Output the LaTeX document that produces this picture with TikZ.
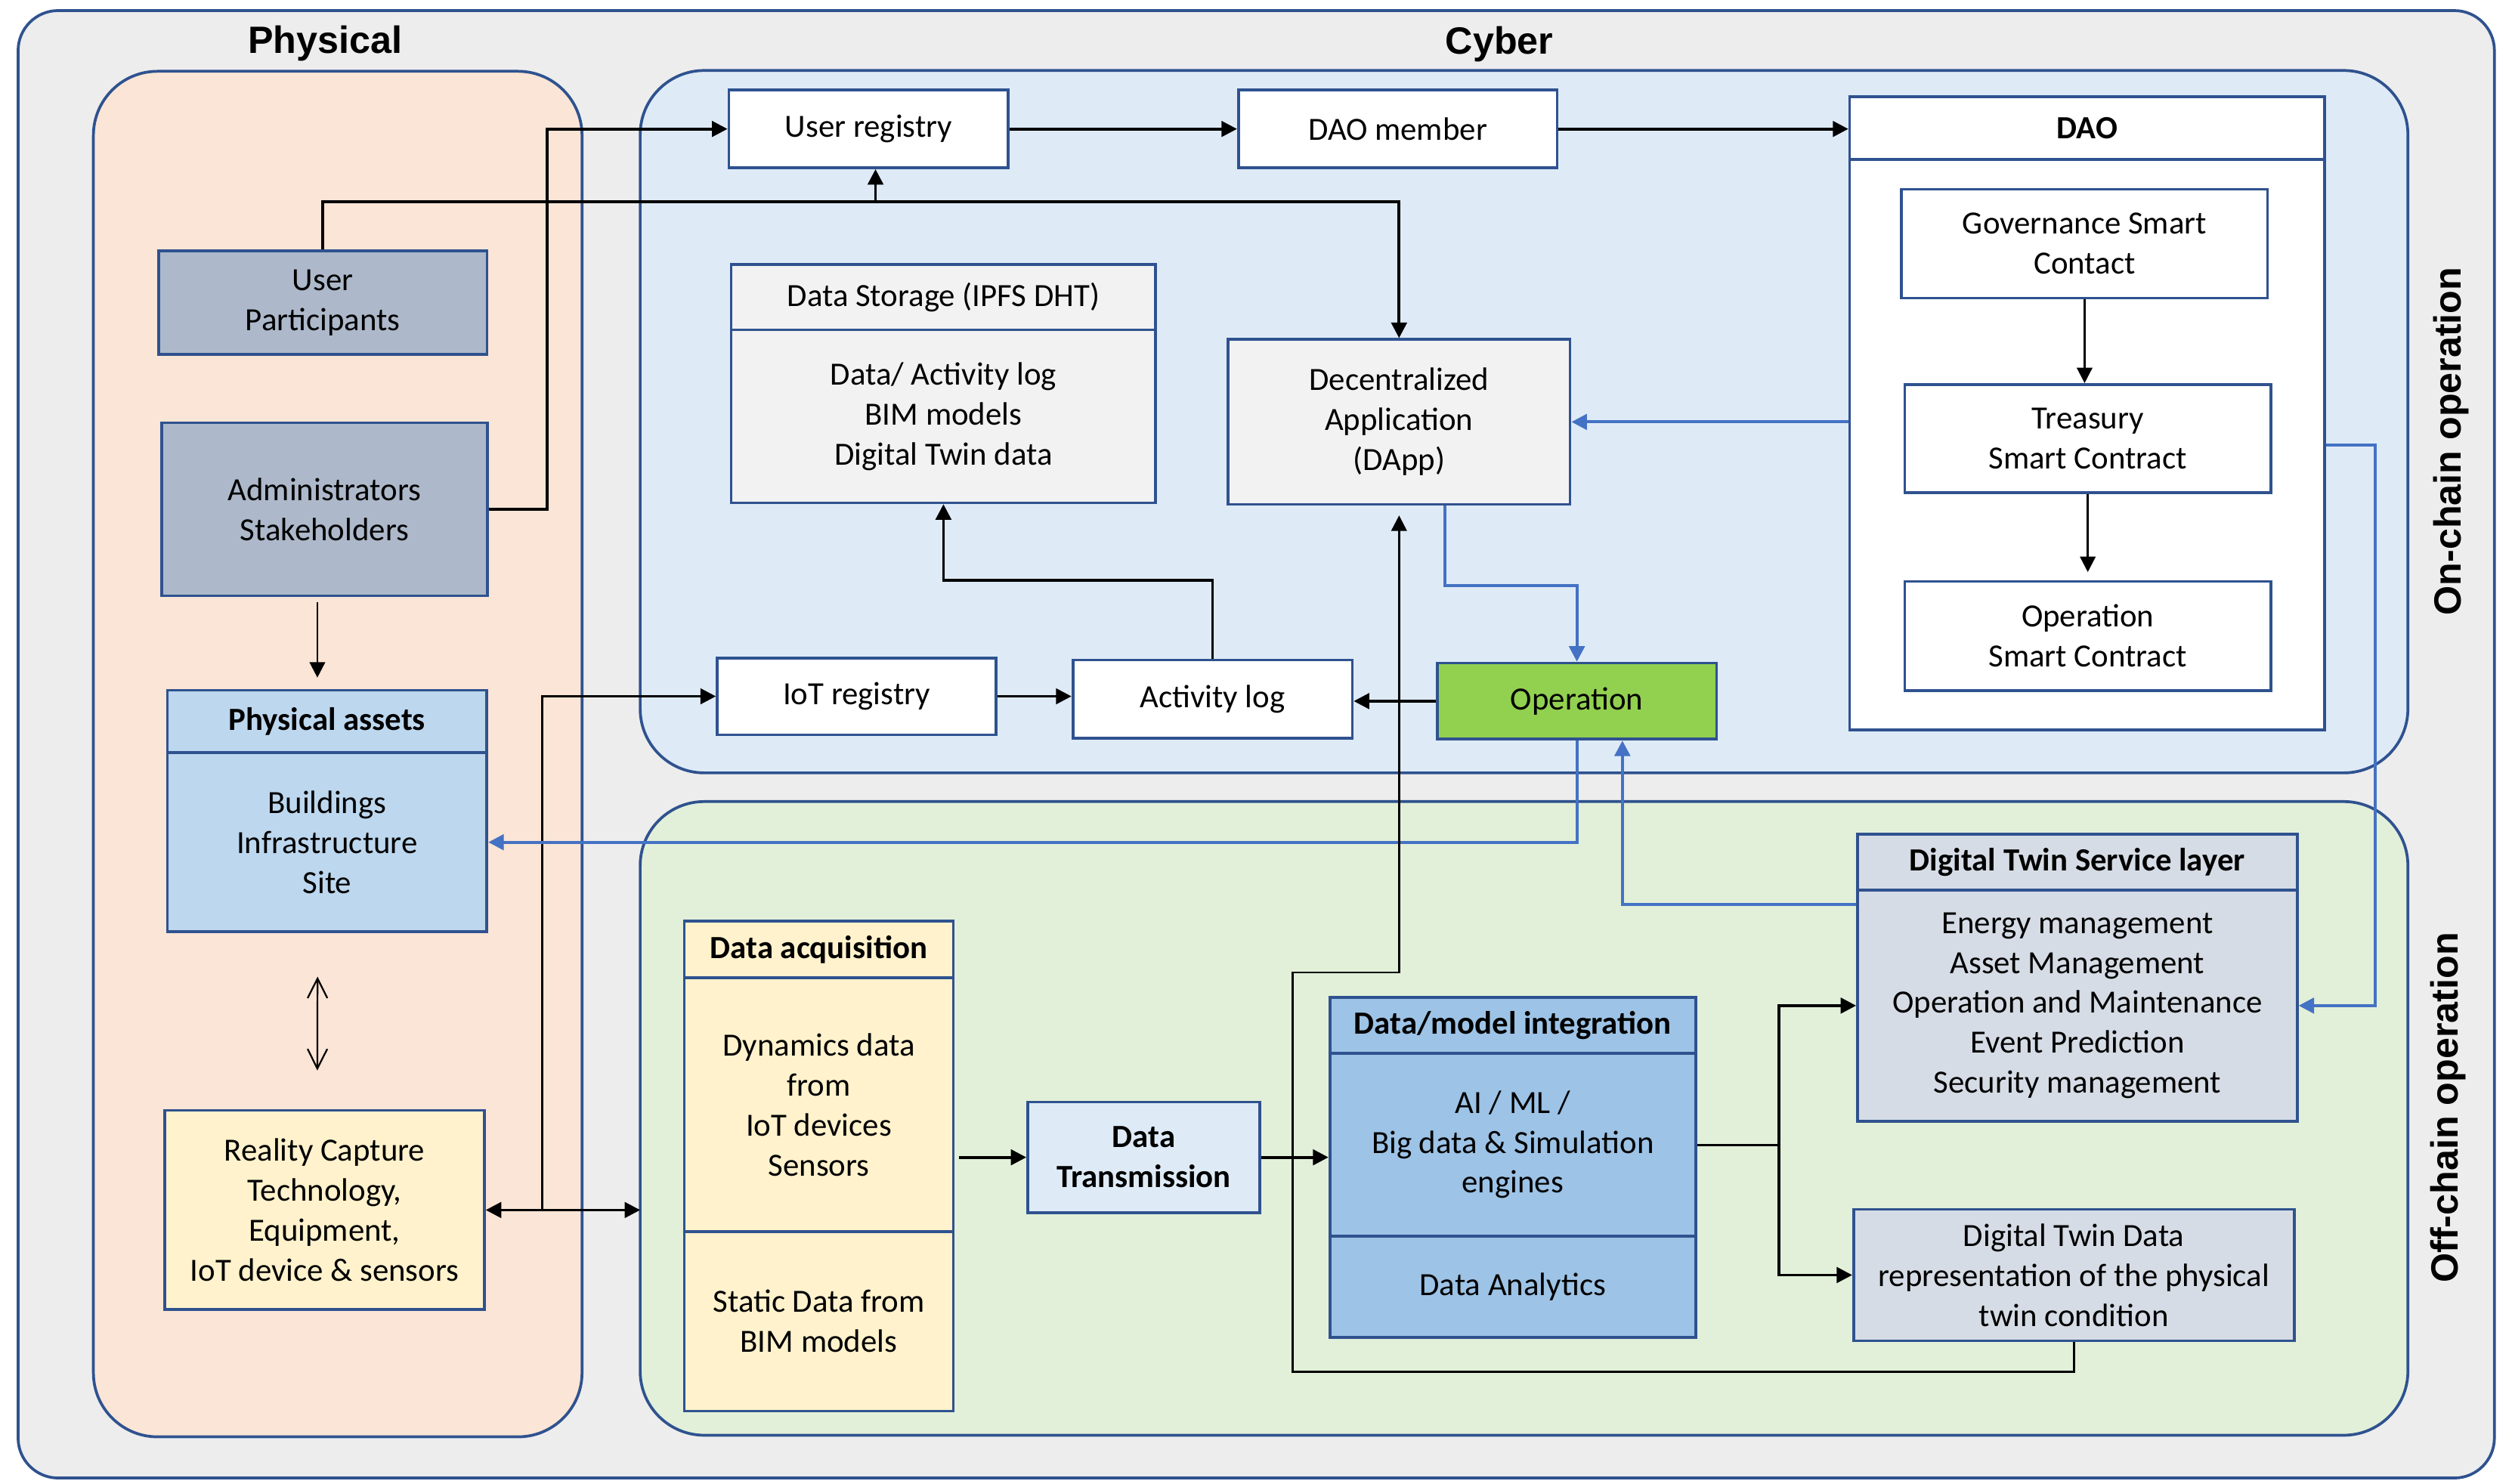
\documentclass[tikz,border=0pt]{standalone}
\usepackage{fontspec}
\setmainfont{Carlito}
\newfontfamily\headfont{Liberation Sans}
\usetikzlibrary{arrows.meta}
\definecolor{frame}{HTML}{2F528F}
\definecolor{arrowblue}{HTML}{4472C4}
\definecolor{outergray}{HTML}{EDEDED}
\definecolor{peach}{HTML}{FBE5D6}
\definecolor{chainblue}{HTML}{DEEBF7}
\definecolor{offgreen}{HTML}{E2F0D9}
\definecolor{usergray}{HTML}{ADB9CA}
\definecolor{assetblue}{HTML}{BDD7EE}
\definecolor{capyellow}{HTML}{FFF2CC}
\definecolor{storegray}{HTML}{F2F2F2}
\definecolor{opgreen}{HTML}{92D050}
\definecolor{modelblue}{HTML}{9DC3E6}
\definecolor{twingray}{HTML}{D6DCE5}
\begin{document}
\begin{tikzpicture}[x=0.02cm,y=-0.02cm,
		font=\fontsize{11.5}{14.2}\selectfont,
		>={Triangle[length=5.5pt,width=5.5pt]},
		box/.style={draw=frame,line width=1pt,align=center,inner sep=0pt},
		con/.style={line width=1pt,->},
		fine/.style={line width=0.7pt,->},
		blu/.style={draw=arrowblue,line width=1.1pt,->},
		panel/.style={draw=frame,line width=1pt,rounded corners=0.8cm},
		side/.style={font=\headfont\bfseries\fontsize{13.5}{16}\selectfont}]
		\useasboundingbox (0,0) rectangle (1568,926.4);
		\draw[draw=frame,line width=1pt,fill=outergray,rounded corners=0.5cm] (11.3,6.6) rectangle (1557,922.7);
		\draw[panel,fill=peach] (58.3,44.5) rectangle (363.3,897);
		\draw[panel,fill=chainblue] (399.6,44) rectangle (1503,482.5);
		\draw[panel,fill=offgreen] (399.6,500.4) rectangle (1503,896);
		\node[side] (phys) at (203,27) {Physical};
		\node[side] (cyber) at (936,27.5) {Cyber};
		\node[side,rotate=90] (onlbl) at (1530,275.5) {On-chain operation};
		\node[side,rotate=90] (offlbl) at (1528,691.5) {Off-chain operation};

		% physical side
		\node[box,fill=usergray,minimum width=4.10cm,minimum height=1.29cm] (upart) at (201.5,188.9) {User\\Participants};
		\node[box,fill=usergray,minimum width=4.07cm,minimum height=2.16cm] (admin) at (202.6,317.9) {Administrators\\Stakeholders};
		\node[box,fill=assetblue,minimum width=3.99cm,minimum height=0.78cm,font=\fontsize{11.5}{14.2}\selectfont\bfseries] (pahdr) at (204.2,450.4) {Physical assets};
		\node[box,fill=assetblue,minimum width=3.99cm,minimum height=2.24cm] (pabody) at (204.2,525.8) {Buildings\\Infrastructure\\Site};
		\node[box,fill=capyellow,minimum width=3.99cm,minimum height=2.49cm] (reality) at (202.6,755.4) {Reality Capture\\Technology,\\Equipment,\\IoT device \& sensors};

		% on-chain
		\node[box,fill=white,minimum width=3.49cm,minimum height=0.97cm] (ureg) at (542.2,80.5) {User registry};
		\node[box,fill=white,minimum width=3.98cm,minimum height=0.97cm] (daom) at (872.5,80.5) {DAO member};
		\node[box,fill=white,minimum width=5.93cm,minimum height=0.78cm,font=\fontsize{11.5}{14.2}\selectfont\bfseries] (daohdr) at (1302.8,80) {DAO};
		\node[box,fill=white,minimum width=5.93cm,minimum height=7.12cm] (daobody) at (1302.8,277.7) {};
		\node[box,fill=white,minimum width=4.57cm,minimum height=1.36cm] (gov) at (1301.2,152.1) {Governance Smart\\Contact};
		\node[box,fill=white,minimum width=4.57cm,minimum height=1.35cm] (treas) at (1303.2,273.8) {Treasury\\Smart Contract};
		\node[box,fill=white,minimum width=4.57cm,minimum height=1.36cm] (opsc) at (1303.2,397) {Operation\\Smart Contract};
		\node[box,fill=storegray,minimum width=5.30cm,minimum height=0.82cm] (dshdr) at (588.9,185.5) {Data Storage (IPFS DHT)};
		\node[box,fill=storegray,minimum width=5.30cm,minimum height=2.16cm] (dsbody) at (588.9,259.9) {Data/ Activity log\\BIM models\\Digital Twin data};
		\node[box,fill=storegray,minimum width=4.27cm,minimum height=2.06cm] (dapp) at (873.3,263.4) {Decentralized\\Application\\(DApp)};
		\node[box,fill=white,minimum width=3.48cm,minimum height=0.96cm] (iotreg) at (534.7,434.7) {IoT registry};
		\node[box,fill=white,minimum width=3.49cm,minimum height=0.98cm] (actlog) at (756.9,436.5) {Activity log};
		\node[box,fill=opgreen,minimum width=3.49cm,minimum height=0.95cm] (oper) at (984.3,437.7) {Operation};

		% off-chain
		\node[box,fill=capyellow,minimum width=3.36cm,minimum height=0.71cm,font=\fontsize{11.5}{14.2}\selectfont\bfseries] (acqhdr) at (511.1,592.8) {Data acquisition};
		\node[box,fill=capyellow,minimum width=3.36cm,minimum height=3.17cm] (acqdyn) at (511.1,689.8) {Dynamics data\\from\\IoT devices\\Sensors};
		\node[box,fill=capyellow,minimum width=3.36cm,minimum height=2.24cm] (acqsta) at (511.1,824.9) {Static Data from\\BIM models};
		\node[box,fill=chainblue,minimum width=2.90cm,minimum height=1.38cm,font=\fontsize{11.5}{14.2}\selectfont\bfseries] (trans) at (714,722.5) {Data\\Transmission};
		\node[box,fill=modelblue,minimum width=4.57cm,minimum height=0.70cm,font=\fontsize{11.5}{14.2}\selectfont\bfseries] (dmhdr) at (944.3,640.2) {Data/model integration};
		\node[box,fill=modelblue,minimum width=4.57cm,minimum height=2.28cm] (dmai) at (944.3,714.6) {AI / ML /\\Big data \& Simulation\\engines};
		\node[box,fill=modelblue,minimum width=4.57cm,minimum height=1.27cm] (dmda) at (944.3,803.3) {Data Analytics};
		\node[box,fill=twingray,minimum width=5.49cm,minimum height=0.70cm,font=\fontsize{11.5}{14.2}\selectfont\bfseries] (dtshdr) at (1296.7,538.1) {Digital Twin Service layer};
		\node[box,fill=twingray,minimum width=5.49cm,minimum height=2.89cm] (dtsbody) at (1296.7,627.8) {Energy management\\Asset Management\\Operation and Maintenance\\Event Prediction\\Security management};
		\node[box,fill=twingray,minimum width=5.50cm,minimum height=1.64cm] (dtdata) at (1294.5,796) {Digital Twin Data\\representation of the physical\\twin condition};

		\coordinate (ubus) at (546.5,126);
		\coordinate (offin) at (399.6,755.4);
		\coordinate (rjoin) at (338.5,755.4);
		\coordinate (dmj) at (1110.5,714.9);

		\draw[con] (admin.east) -- ++(36.3,0) |- (ureg.west);
		\draw[con] (upart.north) |- (ubus) -| (dapp.north);
		\draw[con] (ubus) -- (ubus |- ureg.south);
		\draw[con] (ureg.east) -- (ureg.east -| daom.west);
		\draw[con] (daom.east) -- (daom.east -| daohdr.west);
		\draw[fine] (gov.south) -- (gov.south |- treas.north);
		\draw[fine,shorten >=0.1cm] (treas.south) -- (opsc.north);
		\draw[fine,shorten <=0.06cm,shorten >=0.14cm] ([xshift=-0.09cm]admin.south) -- ([xshift=-0.09cm]admin.south |- pahdr.north);
		\draw[line width=0.6pt,{Straight Barb[length=7pt,width=7pt]}-{Straight Barb[length=7pt,width=7pt]}] ([xshift=-0.12cm,yshift=-0.54cm]pabody.south) -- ([xshift=-0.09cm,yshift=0.48cm]reality.north);
		\draw[con,<->] (reality.east) -- (offin);
		\draw[con] (rjoin) |- (iotreg.west);
		\draw[con] (iotreg.east) -- (iotreg.east -| actlog.west);
		\draw[con] (oper.west) -- (oper.west -| actlog.east);
		\draw[con] (actlog.north) -- ++(0,-49) -| (dsbody.south);
		\draw[blu] (daobody.west |- dapp.east) -- (dapp.east);
		\draw[blu] (daobody.east) -- ++(30.8,0) |- (dtsbody.east);
		\draw[blu] ([xshift=0.574cm]dapp.south) -- ++(0,49.6) -| (oper.north);
		\draw[blu] (oper.south) |- (pabody.east);
		\draw[blu] ([yshift=1.262cm]dtsbody.west) -| ([xshift=0.568cm]oper.south);
		\draw[con,shorten <=0.05cm] (acqdyn.east |- trans.west) -- (trans.west);
		\draw[con] (trans.east) -- (trans.east -| dmai.west);
		\draw[con] (dmai.east |- dmj) -- (dmj) |- (dtsbody.west);
		\draw[con] (dmj) |- (dtdata.west);
		\draw[fine] (dtdata.south) -- ++(0,18.4) -| (807,607) -| ([yshift=-0.12cm]dapp.south);
	\end{tikzpicture}
\end{document}
